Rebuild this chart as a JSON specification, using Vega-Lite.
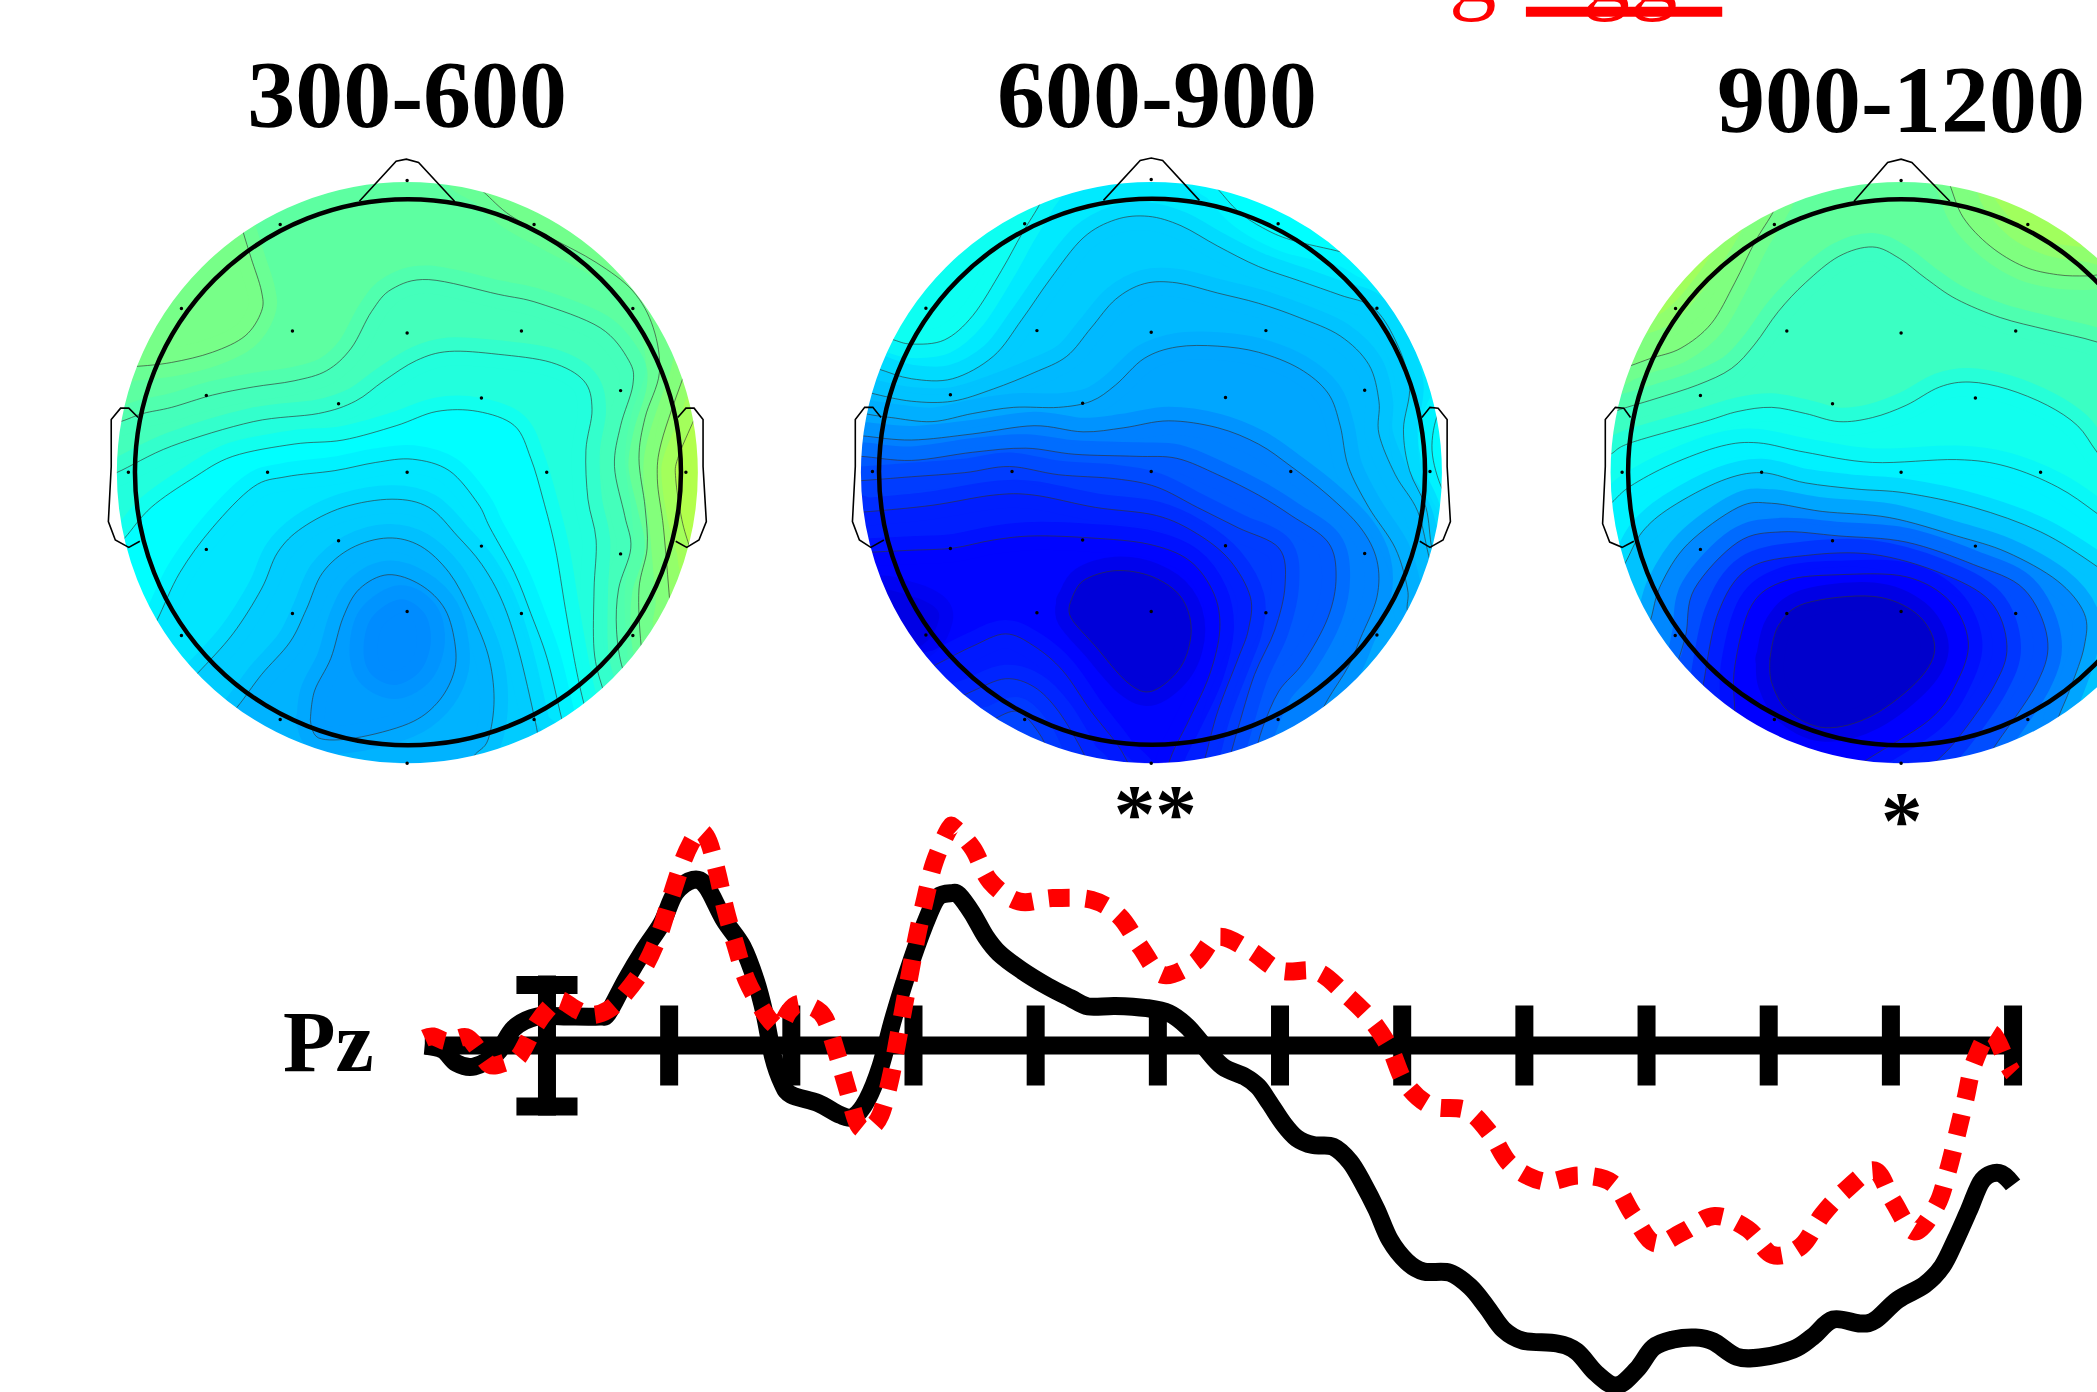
{
"$schema":"https://vega.github.io/schema/vega-lite/v6.json",
"width":2097,"height":1392,"padding":0,"autosize":{"type":"none"},"background":"white",
"config":{"view":{"stroke":null}},
"datasets":{
"levels":[{"s":"B1","v":0.2},{"s":"TL","v":0.8},{"s":"H1","v":0.7},{"s":"H2","v":1.5},{"s":"H3","v":2.2},{"s":"L1","v":-0.4},{"s":"L2","v":-1.2},{"s":"L3","v":-2.0},{"s":"L4","v":-2.6},{"s":"L5","v":-3.2},{"s":"L6","v":-3.8},{"s":"L7","v":-4.3},{"s":"L8","v":-4.7},
{"s":"B2","v":-2.5},{"s":"T1","v":-1.7},{"s":"T2","v":-2.0},{"s":"RL","v":-2.1},{"s":"M2","v":-3.2},{"s":"M3","v":-3.65},{"s":"M4","v":-4.1},{"s":"M5","v":-5.0},{"s":"M6","v":-5.9},{"s":"M7","v":-6.6},{"s":"M8","v":-7.3},{"s":"M9","v":-7.9},{"s":"D","v":-8.4},{"s":"P1","v":-7.4},{"s":"P2","v":-6.9},{"s":"P3","v":-6.4},{"s":"M10","v":-8.6},
{"s":"B3","v":0.3},{"s":"A1","v":1.0},{"s":"A2","v":1.0},{"s":"A3","v":1.8},{"s":"A4","v":1.8},{"s":"N2","v":-0.6},{"s":"N3","v":-1.6},{"s":"N4","v":-2.3},{"s":"N5","v":-3.4},{"s":"N6","v":-4.8},{"s":"N7","v":-6.2},{"s":"N8","v":-7.3},{"s":"N9","v":-8.0},{"s":"N10","v":-8.8}],
"m1":[
{"s":"B1","o":1,"x":1577,"y":815},{"s":"B1","o":1,"x":1470,"y":1215},{"s":"B1","o":1,"x":1177,"y":1508},{"s":"B1","o":1,"x":777,"y":1615},{"s":"B1","o":1,"x":377,"y":1508},{"s":"B1","o":1,"x":84,"y":1215},{"s":"B1","o":1,"x":-23,"y":815},{"s":"B1","o":1,"x":84,"y":415},{"s":"B1","o":1,"x":377,"y":122},{"s":"B1","o":1,"x":777,"y":15},{"s":"B1","o":1,"x":1177,"y":122},{"s":"B1","o":1,"x":1470,"y":415},
{"s":"TL","x":360,"y":170},{"s":"TL","x":375,"y":225},{"s":"TL","x":395,"y":290},{"s":"TL","x":420,"y":370},{"s":"TL","x":420,"y":420},{"s":"TL","x":380,"y":480},{"s":"TL","x":300,"y":520},{"s":"TL","x":200,"y":545},{"s":"TL","x":110,"y":555},{"s":"TL","x":50,"y":557},{"s":"TL","o":1,"x":84,"y":415},{"s":"TL","o":1,"x":377,"y":122},
{"s":"H1","x":920,"y":90},{"s":"H1","x":965,"y":128},{"s":"H1","x":1030,"y":185},{"s":"H1","x":1130,"y":240},{"s":"H1","x":1240,"y":300},{"s":"H1","x":1330,"y":370},{"s":"H1","x":1380,"y":460},{"s":"H1","x":1395,"y":570},{"s":"H1","x":1360,"y":680},{"s":"H1","x":1345,"y":780},{"s":"H1","x":1360,"y":900},{"s":"H1","x":1365,"y":1000},{"s":"H1","x":1345,"y":1100},{"s":"H1","x":1350,"y":1235},{"s":"H1","x":1365,"y":1300},{"s":"H1","o":1,"x":1470,"y":1215},{"s":"H1","o":1,"x":1577,"y":815},{"s":"H1","o":1,"x":1470,"y":415},{"s":"H1","o":1,"x":1177,"y":122},
{"s":"H2","x":1470,"y":540},{"s":"H2","x":1452,"y":585},{"s":"H2","x":1400,"y":740},{"s":"H2","x":1390,"y":830},{"s":"H2","x":1405,"y":950},{"s":"H2","x":1420,"y":1125},{"s":"H2","x":1425,"y":1190},{"s":"H2","o":1,"x":1577,"y":1100},{"s":"H2","o":1,"x":1577,"y":815},{"s":"H2","o":1,"x":1530,"y":560},
{"s":"H3","x":1500,"y":640},{"s":"H3","x":1480,"y":685},{"s":"H3","x":1440,"y":780},{"s":"H3","x":1435,"y":830},{"s":"H3","x":1450,"y":930},{"s":"H3","x":1470,"y":1000},{"s":"H3","x":1490,"y":1060},{"s":"H3","o":1,"x":1577,"y":1000},{"s":"H3","o":1,"x":1577,"y":815},{"s":"H3","o":1,"x":1560,"y":650},
{"s":"L1","x":20,"y":705},{"s":"L1","x":75,"y":690},{"s":"L1","x":130,"y":670},{"s":"L1","x":200,"y":655},{"s":"L1","x":300,"y":625},{"s":"L1","x":400,"y":605},{"s":"L1","x":500,"y":590},{"s":"L1","x":580,"y":565},{"s":"L1","x":640,"y":510},{"s":"L1","x":690,"y":420},{"s":"L1","x":740,"y":365},{"s":"L1","x":830,"y":342},{"s":"L1","x":1000,"y":378},{"s":"L1","x":1100,"y":400},{"s":"L1","x":1250,"y":460},{"s":"L1","x":1320,"y":540},{"s":"L1","x":1330,"y":600},{"s":"L1","x":1300,"y":700},{"s":"L1","x":1285,"y":800},{"s":"L1","x":1310,"y":920},{"s":"L1","x":1325,"y":1000},{"s":"L1","x":1295,"y":1100},{"s":"L1","x":1290,"y":1200},{"s":"L1","x":1305,"y":1295},{"s":"L1","x":1340,"y":1360},{"s":"L1","o":1,"x":1177,"y":1508},{"s":"L1","o":1,"x":777,"y":1615},{"s":"L1","o":1,"x":377,"y":1508},{"s":"L1","o":1,"x":84,"y":1215},{"s":"L1","o":1,"x":-23,"y":815},
{"s":"L2","x":0,"y":835},{"s":"L2","x":65,"y":815},{"s":"L2","x":200,"y":750},{"s":"L2","x":400,"y":690},{"s":"L2","x":560,"y":670},{"s":"L2","x":650,"y":640},{"s":"L2","x":720,"y":590},{"s":"L2","x":800,"y":540},{"s":"L2","x":880,"y":518},{"s":"L2","x":1000,"y":525},{"s":"L2","x":1130,"y":545},{"s":"L2","x":1210,"y":590},{"s":"L2","x":1230,"y":660},{"s":"L2","x":1215,"y":760},{"s":"L2","x":1220,"y":880},{"s":"L2","x":1240,"y":980},{"s":"L2","x":1235,"y":1100},{"s":"L2","x":1235,"y":1250},{"s":"L2","x":1255,"y":1340},{"s":"L2","x":1280,"y":1400},{"s":"L2","o":1,"x":1177,"y":1508},{"s":"L2","o":1,"x":777,"y":1615},{"s":"L2","o":1,"x":377,"y":1508},{"s":"L2","o":1,"x":84,"y":1215},
{"s":"L3","x":40,"y":1020},{"s":"L3","x":85,"y":975},{"s":"L3","x":150,"y":900},{"s":"L3","x":250,"y":830},{"s":"L3","x":350,"y":775},{"s":"L3","x":500,"y":745},{"s":"L3","x":620,"y":735},{"s":"L3","x":750,"y":700},{"s":"L3","x":850,"y":665},{"s":"L3","x":950,"y":665},{"s":"L3","x":1040,"y":700},{"s":"L3","x":1080,"y":780},{"s":"L3","x":1110,"y":880},{"s":"L3","x":1140,"y":1000},{"s":"L3","x":1165,"y":1150},{"s":"L3","x":1190,"y":1290},{"s":"L3","x":1210,"y":1380},{"s":"L3","x":1230,"y":1440},{"s":"L3","o":1,"x":1177,"y":1508},{"s":"L3","o":1,"x":777,"y":1615},{"s":"L3","o":1,"x":377,"y":1508},{"s":"L3","o":1,"x":84,"y":1215},
{"s":"L4","x":130,"y":1235},{"s":"L4","x":165,"y":1175},{"s":"L4","x":220,"y":1060},{"s":"L4","x":300,"y":950},{"s":"L4","x":400,"y":850},{"s":"L4","x":480,"y":825},{"s":"L4","x":600,"y":810},{"s":"L4","x":700,"y":790},{"s":"L4","x":790,"y":782},{"s":"L4","x":880,"y":810},{"s":"L4","x":950,"y":890},{"s":"L4","x":980,"y":950},{"s":"L4","x":1040,"y":1060},{"s":"L4","x":1080,"y":1160},{"s":"L4","x":1120,"y":1270},{"s":"L4","x":1155,"y":1415},{"s":"L4","x":1170,"y":1470},{"s":"L4","o":1,"x":777,"y":1615},{"s":"L4","o":1,"x":377,"y":1508},{"s":"L4","o":1,"x":100,"y":1260},
{"s":"L5","x":220,"y":1350},{"s":"L5","x":265,"y":1305},{"s":"L5","x":350,"y":1210},{"s":"L5","x":420,"y":1100},{"s":"L5","x":460,"y":1010},{"s":"L5","x":520,"y":950},{"s":"L5","x":620,"y":900},{"s":"L5","x":740,"y":880},{"s":"L5","x":830,"y":900},{"s":"L5","x":900,"y":970},{"s":"L5","x":960,"y":1040},{"s":"L5","x":1010,"y":1130},{"s":"L5","x":1050,"y":1250},{"s":"L5","x":1090,"y":1420},{"s":"L5","x":1100,"y":1480},{"s":"L5","o":1,"x":777,"y":1615},{"s":"L5","o":1,"x":377,"y":1508},
{"s":"L6","x":310,"y":1440},{"s":"L6","x":360,"y":1390},{"s":"L6","x":420,"y":1310},{"s":"L6","x":490,"y":1230},{"s":"L6","x":530,"y":1150},{"s":"L6","x":570,"y":1060},{"s":"L6","x":640,"y":1000},{"s":"L6","x":730,"y":975},{"s":"L6","x":810,"y":995},{"s":"L6","x":880,"y":1060},{"s":"L6","x":930,"y":1150},{"s":"L6","x":975,"y":1260},{"s":"L6","x":990,"y":1370},{"s":"L6","x":975,"y":1470},{"s":"L6","x":940,"y":1510},{"s":"L6","x":910,"y":1570},{"s":"L6","o":1,"x":777,"y":1615},{"s":"L6","o":1,"x":450,"y":1560},
{"s":"L7","x":540,"y":1420},{"s":"L7","x":550,"y":1350},{"s":"L7","x":590,"y":1270},{"s":"L7","x":620,"y":1170},{"s":"L7","x":660,"y":1100},{"s":"L7","x":730,"y":1065},{"s":"L7","x":810,"y":1090},{"s":"L7","x":870,"y":1150},{"s":"L7","x":895,"y":1240},{"s":"L7","x":890,"y":1310},{"s":"L7","x":850,"y":1380},{"s":"L7","x":780,"y":1430},{"s":"L7","x":650,"y":1465},{"s":"L7","x":560,"y":1465},{"s":"L7","x":540,"y":1420},
{"s":"L8","o":1,"x":670,"y":1250},{"s":"L8","o":1,"x":690,"y":1170},{"s":"L8","o":1,"x":760,"y":1125},{"s":"L8","o":1,"x":820,"y":1160},{"s":"L8","o":1,"x":835,"y":1230},{"s":"L8","o":1,"x":810,"y":1300},{"s":"L8","o":1,"x":750,"y":1335},{"s":"L8","o":1,"x":690,"y":1310}
],
"m2":[
{"s":"B2","o":1,"x":1587,"y":815},{"s":"B2","o":1,"x":1480,"y":1215},{"s":"B2","o":1,"x":1187,"y":1508},{"s":"B2","o":1,"x":787,"y":1615},{"s":"B2","o":1,"x":387,"y":1508},{"s":"B2","o":1,"x":94,"y":1215},{"s":"B2","o":1,"x":-13,"y":815},{"s":"B2","o":1,"x":94,"y":415},{"s":"B2","o":1,"x":387,"y":122},{"s":"B2","o":1,"x":787,"y":15},{"s":"B2","o":1,"x":1187,"y":122},{"s":"B2","o":1,"x":1480,"y":415},
{"s":"T1","x":530,"y":110},{"s":"T1","x":515,"y":155},{"s":"T1","x":470,"y":230},{"s":"T1","x":420,"y":320},{"s":"T1","x":350,"y":430},{"s":"T1","x":280,"y":490},{"s":"T1","x":200,"y":500},{"s":"T1","x":150,"y":488},{"s":"T1","x":80,"y":470},{"s":"T1","o":1,"x":94,"y":415},{"s":"T1","o":1,"x":387,"y":122},
{"s":"T2","x":910,"y":80},{"s":"T2","x":950,"y":120},{"s":"T2","x":1000,"y":175},{"s":"T2","x":1060,"y":215},{"s":"T2","x":1130,"y":245},{"s":"T2","x":1255,"y":275},{"s":"T2","x":1330,"y":300},{"s":"T2","o":1,"x":1300,"y":120},{"s":"T2","o":1,"x":1187,"y":122},
{"s":"RL","x":1530,"y":630},{"s":"RL","x":1490,"y":670},{"s":"RL","x":1475,"y":760},{"s":"RL","x":1500,"y":855},{"s":"RL","x":1540,"y":900},{"s":"RL","o":1,"x":1587,"y":815},
{"s":"M2","x":40,"y":540},{"s":"M2","x":115,"y":560},{"s":"M2","x":200,"y":585},{"s":"M2","x":300,"y":585},{"s":"M2","x":400,"y":530},{"s":"M2","x":470,"y":440},{"s":"M2","x":540,"y":340},{"s":"M2","x":620,"y":240},{"s":"M2","x":700,"y":195},{"s":"M2","x":780,"y":187},{"s":"M2","x":860,"y":210},{"s":"M2","x":950,"y":260},{"s":"M2","x":1050,"y":310},{"s":"M2","x":1150,"y":345},{"s":"M2","x":1250,"y":380},{"s":"M2","x":1330,"y":410},{"s":"M2","x":1385,"y":490},{"s":"M2","x":1420,"y":600},{"s":"M2","x":1405,"y":710},{"s":"M2","x":1420,"y":810},{"s":"M2","x":1460,"y":900},{"s":"M2","x":1475,"y":1000},{"s":"M2","x":1500,"y":1040},{"s":"M2","o":1,"x":1480,"y":1215},{"s":"M2","o":1,"x":1187,"y":1508},{"s":"M2","o":1,"x":787,"y":1615},{"s":"M2","o":1,"x":387,"y":1508},{"s":"M2","o":1,"x":94,"y":1215},{"s":"M2","o":1,"x":-13,"y":815},
{"s":"M3","x":30,"y":600},{"s":"M3","x":100,"y":620},{"s":"M3","x":200,"y":640},{"s":"M3","x":300,"y":640},{"s":"M3","x":400,"y":610},{"s":"M3","x":500,"y":570},{"s":"M3","x":580,"y":530},{"s":"M3","x":640,"y":460},{"s":"M3","x":700,"y":390},{"s":"M3","x":770,"y":352},{"s":"M3","x":850,"y":350},{"s":"M3","x":950,"y":375},{"s":"M3","x":1050,"y":400},{"s":"M3","x":1150,"y":435},{"s":"M3","x":1250,"y":480},{"s":"M3","x":1320,"y":550},{"s":"M3","x":1345,"y":640},{"s":"M3","x":1345,"y":720},{"s":"M3","x":1385,"y":820},{"s":"M3","x":1440,"y":910},{"s":"M3","x":1470,"y":1030},{"s":"M3","x":1495,"y":1090},{"s":"M3","o":1,"x":1480,"y":1215},{"s":"M3","o":1,"x":1187,"y":1508},{"s":"M3","o":1,"x":787,"y":1615},{"s":"M3","o":1,"x":387,"y":1508},{"s":"M3","o":1,"x":94,"y":1215},{"s":"M3","o":1,"x":-13,"y":815},
{"s":"M4","x":20,"y":650},{"s":"M4","x":85,"y":670},{"s":"M4","x":150,"y":680},{"s":"M4","x":250,"y":690},{"s":"M4","x":350,"y":670},{"s":"M4","x":450,"y":655},{"s":"M4","x":560,"y":655},{"s":"M4","x":640,"y":640},{"s":"M4","x":700,"y":600},{"s":"M4","x":770,"y":535},{"s":"M4","x":850,"y":507},{"s":"M4","x":950,"y":505},{"s":"M4","x":1050,"y":520},{"s":"M4","x":1150,"y":560},{"s":"M4","x":1220,"y":620},{"s":"M4","x":1250,"y":700},{"s":"M4","x":1270,"y":800},{"s":"M4","x":1320,"y":900},{"s":"M4","x":1385,"y":1000},{"s":"M4","x":1415,"y":1100},{"s":"M4","x":1415,"y":1155},{"s":"M4","x":1440,"y":1210},{"s":"M4","o":1,"x":1187,"y":1508},{"s":"M4","o":1,"x":787,"y":1615},{"s":"M4","o":1,"x":387,"y":1508},{"s":"M4","o":1,"x":94,"y":1215},{"s":"M4","o":1,"x":-13,"y":815},
{"s":"M5","x":10,"y":720},{"s":"M5","x":80,"y":725},{"s":"M5","x":200,"y":735},{"s":"M5","x":350,"y":720},{"s":"M5","x":500,"y":700},{"s":"M5","x":620,"y":715},{"s":"M5","x":720,"y":705},{"s":"M5","x":830,"y":688},{"s":"M5","x":950,"y":705},{"s":"M5","x":1050,"y":745},{"s":"M5","x":1130,"y":800},{"s":"M5","x":1220,"y":870},{"s":"M5","x":1300,"y":950},{"s":"M5","x":1340,"y":1030},{"s":"M5","x":1340,"y":1120},{"s":"M5","x":1300,"y":1220},{"s":"M5","x":1270,"y":1290},{"s":"M5","x":1220,"y":1370},{"s":"M5","x":1190,"y":1430},{"s":"M5","o":1,"x":1187,"y":1508},{"s":"M5","o":1,"x":787,"y":1615},{"s":"M5","o":1,"x":387,"y":1508},{"s":"M5","o":1,"x":94,"y":1215},{"s":"M5","o":1,"x":-13,"y":815},
{"s":"M6","x":0,"y":775},{"s":"M6","x":75,"y":775},{"s":"M6","x":200,"y":785},{"s":"M6","x":350,"y":765},{"s":"M6","x":480,"y":755},{"s":"M6","x":600,"y":770},{"s":"M6","x":750,"y":775},{"s":"M6","x":850,"y":780},{"s":"M6","x":950,"y":820},{"s":"M6","x":1050,"y":870},{"s":"M6","x":1130,"y":920},{"s":"M6","x":1220,"y":985},{"s":"M6","x":1240,"y":1070},{"s":"M6","x":1220,"y":1170},{"s":"M6","x":1160,"y":1280},{"s":"M6","x":1100,"y":1350},{"s":"M6","x":1060,"y":1440},{"s":"M6","x":1040,"y":1510},{"s":"M6","x":1020,"y":1560},{"s":"M6","o":1,"x":787,"y":1615},{"s":"M6","o":1,"x":387,"y":1508},{"s":"M6","o":1,"x":94,"y":1215},{"s":"M6","o":1,"x":-13,"y":815},
{"s":"M7","x":0,"y":838},{"s":"M7","x":70,"y":835},{"s":"M7","x":200,"y":825},{"s":"M7","x":330,"y":815},{"s":"M7","x":440,"y":800},{"s":"M7","x":560,"y":820},{"s":"M7","x":700,"y":830},{"s":"M7","x":800,"y":850},{"s":"M7","x":900,"y":900},{"s":"M7","x":1000,"y":950},{"s":"M7","x":1100,"y":1000},{"s":"M7","x":1115,"y":1090},{"s":"M7","x":1090,"y":1200},{"s":"M7","x":1040,"y":1310},{"s":"M7","x":1000,"y":1440},{"s":"M7","x":980,"y":1510},{"s":"M7","x":960,"y":1570},{"s":"M7","o":1,"x":787,"y":1615},{"s":"M7","o":1,"x":387,"y":1508},{"s":"M7","o":1,"x":94,"y":1215},{"s":"M7","o":1,"x":-13,"y":900},
{"s":"M8","x":30,"y":915},{"s":"M8","x":100,"y":910},{"s":"M8","x":250,"y":895},{"s":"M8","x":400,"y":870},{"s":"M8","x":500,"y":870},{"s":"M8","x":650,"y":900},{"s":"M8","x":800,"y":920},{"s":"M8","x":900,"y":965},{"s":"M8","x":980,"y":1030},{"s":"M8","x":1030,"y":1120},{"s":"M8","x":1025,"y":1200},{"s":"M8","x":1000,"y":1270},{"s":"M8","x":950,"y":1400},{"s":"M8","x":920,"y":1510},{"s":"M8","x":900,"y":1570},{"s":"M8","o":1,"x":787,"y":1615},{"s":"M8","o":1,"x":387,"y":1508},{"s":"M8","o":1,"x":94,"y":1215},
{"s":"M9","x":30,"y":1015},{"s":"M9","x":100,"y":1010},{"s":"M9","x":200,"y":1005},{"s":"M9","x":300,"y":1000},{"s":"M9","x":400,"y":980},{"s":"M9","x":500,"y":970},{"s":"M9","x":640,"y":975},{"s":"M9","x":780,"y":990},{"s":"M9","x":880,"y":1030},{"s":"M9","x":940,"y":1110},{"s":"M9","x":955,"y":1200},{"s":"M9","x":930,"y":1310},{"s":"M9","x":880,"y":1420},{"s":"M9","x":840,"y":1500},{"s":"M9","x":820,"y":1560},{"s":"M9","o":1,"x":787,"y":1615},{"s":"M9","o":1,"x":387,"y":1508},{"s":"M9","o":1,"x":94,"y":1215},
{"s":"D","o":1,"x":110,"y":1110},{"s":"D","o":1,"x":200,"y":1118},{"s":"D","o":1,"x":262,"y":1150},{"s":"D","o":1,"x":262,"y":1190},{"s":"D","o":1,"x":235,"y":1230},{"s":"D","o":1,"x":190,"y":1250},{"s":"D","o":1,"x":100,"y":1240},
{"s":"P1","x":230,"y":1300},{"s":"P1","x":270,"y":1280},{"s":"P1","x":350,"y":1240},{"s":"P1","x":430,"y":1210},{"s":"P1","x":500,"y":1240},{"s":"P1","x":570,"y":1300},{"s":"P1","x":640,"y":1400},{"s":"P1","x":710,"y":1490},{"s":"P1","x":750,"y":1570},{"s":"P1","o":1,"x":387,"y":1560},{"s":"P1","o":1,"x":200,"y":1400},
{"s":"P2","x":290,"y":1380},{"s":"P2","x":350,"y":1350},{"s":"P2","x":430,"y":1320},{"s":"P2","x":500,"y":1340},{"s":"P2","x":560,"y":1400},{"s":"P2","x":620,"y":1500},{"s":"P2","x":640,"y":1550},{"s":"P2","o":1,"x":387,"y":1560},{"s":"P2","o":1,"x":300,"y":1440},
{"s":"P3","x":370,"y":1440},{"s":"P3","x":400,"y":1420},{"s":"P3","x":460,"y":1400},{"s":"P3","x":510,"y":1450},{"s":"P3","x":540,"y":1510},{"s":"P3","x":560,"y":1570},{"s":"P3","o":1,"x":400,"y":1570},
{"s":"M10","x":590,"y":1130},{"s":"M10","x":620,"y":1080},{"s":"M10","x":700,"y":1055},{"s":"M10","x":790,"y":1070},{"s":"M10","x":860,"y":1120},{"s":"M10","x":885,"y":1200},{"s":"M10","x":860,"y":1290},{"s":"M10","x":790,"y":1350},{"s":"M10","x":730,"y":1330},{"s":"M10","x":650,"y":1240},{"s":"M10","x":590,"y":1170},{"s":"M10","x":590,"y":1130}
],
"m3":[
{"s":"B3","o":1,"x":1957,"y":815},{"s":"B3","o":1,"x":1825,"y":1215},{"s":"B3","o":1,"x":1470,"y":1508},{"s":"B3","o":1,"x":985,"y":1615},{"s":"B3","o":1,"x":500,"y":1508},{"s":"B3","o":1,"x":145,"y":1215},{"s":"B3","o":1,"x":13,"y":815},{"s":"B3","o":1,"x":145,"y":415},{"s":"B3","o":1,"x":500,"y":122},{"s":"B3","o":1,"x":985,"y":15},{"s":"B3","o":1,"x":1470,"y":122},{"s":"B3","o":1,"x":1825,"y":415},
{"s":"A1","x":620,"y":130},{"s":"A1","x":605,"y":175},{"s":"A1","x":550,"y":250},{"s":"A1","x":490,"y":350},{"s":"A1","x":420,"y":450},{"s":"A1","x":330,"y":510},{"s":"A1","x":240,"y":535},{"s":"A1","x":180,"y":553},{"s":"A1","x":100,"y":575},{"s":"A1","o":1,"x":145,"y":415},{"s":"A1","o":1,"x":500,"y":122},
{"s":"A2","x":1110,"y":70},{"s":"A2","x":1130,"y":110},{"s":"A2","x":1170,"y":190},{"s":"A2","x":1250,"y":260},{"s":"A2","x":1350,"y":310},{"s":"A2","x":1450,"y":330},{"s":"A2","x":1540,"y":333},{"s":"A2","x":1650,"y":330},{"s":"A2","x":1800,"y":400},{"s":"A2","o":1,"x":1825,"y":300},{"s":"A2","o":1,"x":1470,"y":122},
{"s":"A3","o":1,"x":530,"y":120},{"s":"A3","o":1,"x":450,"y":240},{"s":"A3","o":1,"x":370,"y":340},{"s":"A3","o":1,"x":280,"y":420},{"s":"A3","o":1,"x":180,"y":450},{"s":"A3","o":1,"x":100,"y":470},{"s":"A3","o":1,"x":145,"y":415},{"s":"A3","o":1,"x":500,"y":122},
{"s":"A4","o":1,"x":1260,"y":110},{"s":"A4","o":1,"x":1320,"y":200},{"s":"A4","o":1,"x":1430,"y":250},{"s":"A4","o":1,"x":1568,"y":270},{"s":"A4","o":1,"x":1800,"y":330},{"s":"A4","o":1,"x":1825,"y":300},{"s":"A4","o":1,"x":1470,"y":122},
{"s":"N2","x":90,"y":680},{"s":"N2","x":150,"y":660},{"s":"N2","x":250,"y":635},{"s":"N2","x":380,"y":600},{"s":"N2","x":480,"y":560},{"s":"N2","x":550,"y":500},{"s":"N2","x":620,"y":420},{"s":"N2","x":700,"y":350},{"s":"N2","x":800,"y":285},{"s":"N2","x":900,"y":262},{"s":"N2","x":980,"y":290},{"s":"N2","x":1060,"y":340},{"s":"N2","x":1150,"y":390},{"s":"N2","x":1280,"y":435},{"s":"N2","x":1420,"y":465},{"s":"N2","x":1568,"y":495},{"s":"N2","x":1700,"y":540},{"s":"N2","o":1,"x":1825,"y":1215},{"s":"N2","o":1,"x":1470,"y":1508},{"s":"N2","o":1,"x":985,"y":1615},{"s":"N2","o":1,"x":500,"y":1508},{"s":"N2","o":1,"x":145,"y":1215},{"s":"N2","o":1,"x":13,"y":815},
{"s":"N3","x":60,"y":790},{"s":"N3","x":120,"y":770},{"s":"N3","x":180,"y":742},{"s":"N3","x":400,"y":690},{"s":"N3","x":500,"y":665},{"s":"N3","x":600,"y":655},{"s":"N3","x":700,"y":670},{"s":"N3","x":800,"y":690},{"s":"N3","x":900,"y":680},{"s":"N3","x":1000,"y":650},{"s":"N3","x":1100,"y":605},{"s":"N3","x":1190,"y":593},{"s":"N3","x":1300,"y":610},{"s":"N3","x":1420,"y":650},{"s":"N3","x":1510,"y":700},{"s":"N3","x":1568,"y":765},{"s":"N3","x":1650,"y":850},{"s":"N3","o":1,"x":1825,"y":1215},{"s":"N3","o":1,"x":1470,"y":1508},{"s":"N3","o":1,"x":985,"y":1615},{"s":"N3","o":1,"x":500,"y":1508},{"s":"N3","o":1,"x":145,"y":1215},{"s":"N3","o":1,"x":13,"y":815},
{"s":"N4","x":80,"y":925},{"s":"N4","x":125,"y":888},{"s":"N4","x":180,"y":848},{"s":"N4","x":300,"y":795},{"s":"N4","x":450,"y":750},{"s":"N4","x":560,"y":742},{"s":"N4","x":700,"y":765},{"s":"N4","x":900,"y":790},{"s":"N4","x":1150,"y":783},{"s":"N4","x":1300,"y":800},{"s":"N4","x":1450,"y":850},{"s":"N4","x":1568,"y":915},{"s":"N4","x":1700,"y":1000},{"s":"N4","o":1,"x":1825,"y":1215},{"s":"N4","o":1,"x":1470,"y":1508},{"s":"N4","o":1,"x":985,"y":1615},{"s":"N4","o":1,"x":500,"y":1508},{"s":"N4","o":1,"x":145,"y":1215},
{"s":"N5","x":130,"y":1080},{"s":"N5","x":165,"y":1035},{"s":"N5","x":215,"y":960},{"s":"N5","x":300,"y":900},{"s":"N5","x":450,"y":835},{"s":"N5","x":570,"y":815},{"s":"N5","x":700,"y":840},{"s":"N5","x":850,"y":855},{"s":"N5","x":1000,"y":865},{"s":"N5","x":1200,"y":900},{"s":"N5","x":1400,"y":960},{"s":"N5","x":1568,"y":1045},{"s":"N5","x":1700,"y":1130},{"s":"N5","o":1,"x":1825,"y":1215},{"s":"N5","o":1,"x":1470,"y":1508},{"s":"N5","o":1,"x":985,"y":1615},{"s":"N5","o":1,"x":500,"y":1508},{"s":"N5","o":1,"x":145,"y":1215},
{"s":"N6","x":215,"y":1230},{"s":"N6","x":240,"y":1175},{"s":"N6","x":270,"y":1090},{"s":"N6","x":350,"y":990},{"s":"N6","x":500,"y":900},{"s":"N6","x":600,"y":890},{"s":"N6","x":750,"y":910},{"s":"N6","x":950,"y":925},{"s":"N6","x":1150,"y":970},{"s":"N6","x":1300,"y":1010},{"s":"N6","x":1450,"y":1080},{"s":"N6","x":1530,"y":1160},{"s":"N6","x":1530,"y":1240},{"s":"N6","x":1490,"y":1340},{"s":"N6","x":1450,"y":1420},{"s":"N6","x":1420,"y":1490},{"s":"N6","o":1,"x":985,"y":1615},{"s":"N6","o":1,"x":500,"y":1508},{"s":"N6","o":1,"x":200,"y":1300},
{"s":"N7","x":320,"y":1280},{"s":"N7","x":345,"y":1210},{"s":"N7","x":370,"y":1100},{"s":"N7","x":500,"y":985},{"s":"N7","x":630,"y":960},{"s":"N7","x":800,"y":970},{"s":"N7","x":1000,"y":985},{"s":"N7","x":1200,"y":1040},{"s":"N7","x":1350,"y":1100},{"s":"N7","x":1420,"y":1220},{"s":"N7","x":1390,"y":1330},{"s":"N7","x":1260,"y":1490},{"s":"N7","x":1230,"y":1540},{"s":"N7","o":1,"x":985,"y":1615},{"s":"N7","o":1,"x":500,"y":1508},{"s":"N7","o":1,"x":250,"y":1330},
{"s":"N8","x":380,"y":1400},{"s":"N8","x":395,"y":1340},{"s":"N8","x":440,"y":1160},{"s":"N8","x":530,"y":1050},{"s":"N8","x":700,"y":1018},{"s":"N8","x":900,"y":1015},{"s":"N8","x":1100,"y":1060},{"s":"N8","x":1250,"y":1130},{"s":"N8","x":1300,"y":1240},{"s":"N8","x":1260,"y":1340},{"s":"N8","x":1150,"y":1470},{"s":"N8","x":1080,"y":1530},{"s":"N8","x":1040,"y":1570},{"s":"N8","o":1,"x":985,"y":1615},{"s":"N8","o":1,"x":500,"y":1508},
{"s":"N9","x":490,"y":1460},{"s":"N9","x":490,"y":1400},{"s":"N9","x":490,"y":1290},{"s":"N9","x":540,"y":1140},{"s":"N9","x":640,"y":1080},{"s":"N9","x":800,"y":1065},{"s":"N9","x":1000,"y":1070},{"s":"N9","x":1130,"y":1130},{"s":"N9","x":1185,"y":1230},{"s":"N9","x":1150,"y":1330},{"s":"N9","x":1070,"y":1420},{"s":"N9","x":880,"y":1520},{"s":"N9","x":800,"y":1570},{"s":"N9","o":1,"x":600,"y":1560},
{"s":"N10","x":595,"y":1270},{"s":"N10","x":620,"y":1190},{"s":"N10","x":700,"y":1135},{"s":"N10","x":900,"y":1118},{"s":"N10","x":1030,"y":1160},{"s":"N10","x":1085,"y":1240},{"s":"N10","x":1040,"y":1320},{"s":"N10","x":900,"y":1410},{"s":"N10","x":760,"y":1440},{"s":"N10","x":650,"y":1400},{"s":"N10","x":600,"y":1330},{"s":"N10","x":595,"y":1270}
],
"black":[{"t":-100,"a":0},{"t":-85,"a":-0.22},{"t":-74,"a":-0.88},{"t":-59.5,"a":-1.05},{"t":-41,"a":-0.38},{"t":-27,"a":0.87},{"t":-8,"a":1.45},{"t":13.6,"a":1.45},{"t":43,"a":1.45},{"t":50,"a":1.62},{"t":64.7,"a":3.28},{"t":79.4,"a":4.78},{"t":94,"a":6.12},{"t":105,"a":7.62},{"t":119.5,"a":8.28},{"t":130.5,"a":7.95},{"t":145,"a":6.28},{"t":160,"a":4.95},{"t":170.7,"a":3.28},{"t":178,"a":1.62},{"t":185,"a":-0.55},{"t":192.6,"a":-1.88},{"t":200,"a":-2.47},{"t":222,"a":-2.88},{"t":240,"a":-3.47},{"t":251,"a":-3.55},{"t":262,"a":-2.72},{"t":273,"a":-1.05},{"t":284,"a":1.45},{"t":298.6,"a":4.28},{"t":313,"a":6.62},{"t":320.5,"a":7.45},{"t":331.5,"a":7.62},{"t":337,"a":7.53},{"t":348,"a":6.62},{"t":359,"a":5.45},{"t":370,"a":4.62},{"t":388,"a":3.78},{"t":410,"a":2.95},{"t":428.6,"a":2.37},{"t":443,"a":1.95},{"t":465,"a":1.98},{"t":491,"a":1.87},{"t":509,"a":1.62},{"t":524,"a":0.95},{"t":538,"a":-0.05},{"t":553,"a":-1.05},{"t":571,"a":-1.55},{"t":582,"a":-2.05},{"t":591.8,"a":-2.9},{"t":602.7,"a":-3.9},{"t":613.6,"a":-4.63},{"t":627,"a":-4.98},{"t":643.5,"a":-5.06},{"t":657.3,"a":-5.81},{"t":668,"a":-6.89},{"t":679,"a":-8.2},{"t":690,"a":-9.73},{"t":703.7,"a":-10.8},{"t":717.4,"a":-11.3},{"t":739,"a":-11.36},{"t":755.5,"a":-12.06},{"t":769,"a":-13.06},{"t":782.8,"a":-14.2},{"t":799,"a":-14.76},{"t":826.8,"a":-14.9},{"t":842.8,"a":-15.3},{"t":859,"a":-16.4},{"t":875.5,"a":-17.0},{"t":892,"a":-16.2},{"t":905.6,"a":-15.1},{"t":922,"a":-14.7},{"t":940,"a":-14.6},{"t":954.6,"a":-14.8},{"t":973.8,"a":-15.56},{"t":992.7,"a":-15.6},{"t":1020,"a":-15.2},{"t":1036,"a":-14.56},{"t":1052.8,"a":-13.7},{"t":1075,"a":-13.9},{"t":1087.4,"a":-13.72},{"t":1105.6,"a":-12.72},{"t":1127.5,"a":-11.97},{"t":1142,"a":-11.05},{"t":1153,"a":-9.72},{"t":1164,"a":-8.22},{"t":1175,"a":-6.72},{"t":1189,"a":-6.38},{"t":1200,"a":-6.97}],
"red":[{"t":-100,"a":0.37},{"t":-93,"a":0.45},{"t":-81.4,"a":0.2},{"t":-66,"a":0.42},{"t":-56,"a":-0.22},{"t":-46.7,"a":-0.97},{"t":-34,"a":-0.85},{"t":-23,"a":-0.55},{"t":-9,"a":1.03},{"t":2.6,"a":1.95},{"t":10.7,"a":2.28},{"t":24.5,"a":1.78},{"t":37,"a":1.53},{"t":50,"a":1.78},{"t":61.8,"a":2.45},{"t":79.4,"a":3.9},{"t":92,"a":5.57},{"t":101,"a":7.33},{"t":110.4,"a":9.08},{"t":117.7,"a":10.1},{"t":125,"a":10.7},{"t":132.3,"a":10.2},{"t":139.6,"a":8.58},{"t":146.2,"a":6.78},{"t":154.3,"a":5.03},{"t":163.4,"a":3.28},{"t":177.3,"a":1.7},{"t":185,"a":1.1},{"t":190.8,"a":0.95},{"t":198,"a":1.7},{"t":205.4,"a":2.07},{"t":216.4,"a":1.95},{"t":227.4,"a":1.37},{"t":237.2,"a":-0.38},{"t":245.6,"a":-2.13},{"t":254.8,"a":-3.97},{"t":263.9,"a":-4.13},{"t":273,"a":-3.47},{"t":281,"a":-1.68},{"t":286.6,"a":0.12},{"t":292,"a":1.92},{"t":297.5,"a":3.73},{"t":303,"a":5.53},{"t":309.6,"a":7.33},{"t":316.9,"a":9.12},{"t":328.6,"a":10.78},{"t":333.6,"a":10.87},{"t":348.9,"a":9.83},{"t":362.8,"a":8.2},{"t":386.5,"a":7.2},{"t":414,"a":7.37},{"t":446,"a":7.28},{"t":468.8,"a":6.45},{"t":486,"a":4.9},{"t":504,"a":3.53},{"t":530,"a":4.15},{"t":549,"a":5.42},{"t":575.5,"a":4.75},{"t":600.3,"a":3.75},{"t":630,"a":3.7},{"t":652,"a":2.65},{"t":673.4,"a":1.37},{"t":689.9,"a":-0.13},{"t":702.6,"a":-1.88},{"t":723.8,"a":-3.02},{"t":753,"a":-3.25},{"t":772.8,"a":-4.47},{"t":789,"a":-5.97},{"t":816.4,"a":-6.8},{"t":844.8,"a":-6.5},{"t":872,"a":-6.88},{"t":888.5,"a":-8.42},{"t":906.3,"a":-9.88},{"t":930.3,"a":-9.3},{"t":955.7,"a":-8.52},{"t":983,"a":-9.18},{"t":1003,"a":-10.47},{"t":1026.7,"a":-10.02},{"t":1043.8,"a":-8.47},{"t":1063.8,"a":-7.18},{"t":1086.7,"a":-6.25},{"t":1102,"a":-7.8},{"t":1119.4,"a":-9.3},{"t":1137.6,"a":-7.97},{"t":1146.7,"a":-6.25},{"t":1154,"a":-4.47},{"t":1161,"a":-2.68},{"t":1168,"a":-0.88},{"t":1182,"a":0.62},{"t":1195.8,"a":-0.97},{"t":1200,"a":-1.38}]
},
"layer":[
{"encoding":{"x":{"field":"x","type":"quantitative","axis":null,"scale":{"domain":[-220.5,4917.2],"nice":false,"zero":false}},"y":{"field":"y","type":"quantitative","axis":null,"scale":{"domain":[3067.4,-343],"nice":false,"zero":false}}},
"layer":[
{"data":{"name":"m1"},"transform":[{"window":[{"op":"row_number","as":"i"}]},{"lookup":"s","from":{"data":{"name":"levels"},"key":"s","fields":["v"]}}],"mark":{"type":"line","interpolate":"cardinal-closed","strokeWidth":28,"strokeOpacity":0.5},"encoding":{"detail":{"field":"s"},"order":{"field":"i","type":"quantitative"},"fill":{"field":"v","type":"quantitative","legend":null,"scale":{"domain":[-10,-8,-2,1,4],"range":["#00007f","#0000ff","#00ffff","#7fff7f","#ffff00"],"interpolate":"rgb"}},"stroke":{"field":"v","type":"quantitative","legend":null,"scale":{"domain":[-10,-8,-2,1,4],"range":["#00007f","#0000ff","#00ffff","#7fff7f","#ffff00"],"interpolate":"rgb"}}}},
{"data":{"name":"m1"},"transform":[{"window":[{"op":"row_number","as":"i"}]},{"filter":"!datum.o"}],"mark":{"type":"line","interpolate":"cardinal","stroke":"#333333","strokeWidth":0.8,"strokeOpacity":0.8},"encoding":{"detail":{"field":"s"},"order":{"field":"i","type":"quantitative"}}},
{"data":{"values":[{"x":777.5,"y":815}]},"mark":{"type":"point","shape":"circle","filled":false,"size":435600,"stroke":"white","strokeWidth":79,"opacity":1}},
{"data":{"values":[{"x":779,"y":814}]},"mark":{"type":"point","shape":"circle","filled":false,"size":298116,"stroke":"black","strokeWidth":4.5,"opacity":1}},
{"data":{"values":[{"p":"n","x":660,"y":150},{"p":"n","x":750,"y":52},{"p":"n","x":775,"y":47},{"p":"n","x":805,"y":55},{"p":"n","x":893,"y":150},{"p":"l","x":118,"y":680},{"p":"l","x":95,"y":657},{"p":"l","x":75,"y":657},{"p":"l","x":52,"y":685},{"p":"l","x":52,"y":800},{"p":"l","x":45,"y":935},{"p":"l","x":62,"y":980},{"p":"l","x":95,"y":998},{"p":"l","x":122,"y":983},{"p":"r","x":1440,"y":680},{"p":"r","x":1460,"y":657},{"p":"r","x":1480,"y":657},{"p":"r","x":1502,"y":685},{"p":"r","x":1502,"y":800},{"p":"r","x":1510,"y":935},{"p":"r","x":1492,"y":980},{"p":"r","x":1462,"y":998},{"p":"r","x":1435,"y":983}]},"transform":[{"window":[{"op":"row_number","as":"i"}]}],"mark":{"type":"line","stroke":"black","strokeWidth":1.6},"encoding":{"detail":{"field":"p"},"order":{"field":"i","type":"quantitative"}}},
{"data":{"values":[{"x":777,"y":99},{"x":466,"y":207},{"x":1088,"y":207},{"x":224,"y":413},{"x":1330,"y":413},{"x":496,"y":468},{"x":777,"y":473},{"x":1057,"y":468},{"x":285,"y":626},{"x":609,"y":646},{"x":959,"y":632},{"x":1300,"y":614},{"x":94,"y":814},{"x":435,"y":814},{"x":777,"y":814},{"x":1119,"y":814},{"x":1460,"y":814},{"x":285,"y":1003},{"x":609,"y":982},{"x":959,"y":995},{"x":1300,"y":1014},{"x":496,"y":1160},{"x":777,"y":1155},{"x":1057,"y":1160},{"x":224,"y":1214},{"x":1330,"y":1214},{"x":466,"y":1420},{"x":1088,"y":1420},{"x":777,"y":1527}]},"mark":{"type":"point","shape":"circle","filled":true,"size":12,"color":"black","opacity":1}},
{"data":{"values":[{"x":777,"y":-31,"label":"300-600"}]},"mark":{"type":"text","font":"Liberation Serif","fontWeight":"bold","fontSize":96,"color":"black","align":"center","baseline":"alphabetic"},"encoding":{"text":{"field":"label"}}}
]},
{"encoding":{"x":{"field":"x","type":"quantitative","axis":null,"scale":{"domain":[-2033.5,3104.2],"nice":false,"zero":false}},"y":{"field":"y","type":"quantitative","axis":null,"scale":{"domain":[3067.4,-343],"nice":false,"zero":false}}},
"layer":[
{"data":{"name":"m2"},"transform":[{"window":[{"op":"row_number","as":"i"}]},{"lookup":"s","from":{"data":{"name":"levels"},"key":"s","fields":["v"]}}],"mark":{"type":"line","interpolate":"cardinal-closed","strokeWidth":28,"strokeOpacity":0.5},"encoding":{"detail":{"field":"s"},"order":{"field":"i","type":"quantitative"},"fill":{"field":"v","type":"quantitative","legend":null,"scale":{"domain":[-10,-8,-2,1,4],"range":["#00007f","#0000ff","#00ffff","#7fff7f","#ffff00"],"interpolate":"rgb"}},"stroke":{"field":"v","type":"quantitative","legend":null,"scale":{"domain":[-10,-8,-2,1,4],"range":["#00007f","#0000ff","#00ffff","#7fff7f","#ffff00"],"interpolate":"rgb"}}}},
{"data":{"name":"m2"},"transform":[{"window":[{"op":"row_number","as":"i"}]},{"filter":"!datum.o"}],"mark":{"type":"line","interpolate":"cardinal","stroke":"#333333","strokeWidth":0.8,"strokeOpacity":0.8},"encoding":{"detail":{"field":"s"},"order":{"field":"i","type":"quantitative"}}},
{"data":{"values":[{"x":787.5,"y":815}]},"mark":{"type":"point","shape":"circle","filled":false,"size":435600,"stroke":"white","strokeWidth":79,"opacity":1}},
{"data":{"values":[{"x":789,"y":813}]},"mark":{"type":"point","shape":"circle","filled":false,"size":298116,"stroke":"black","strokeWidth":4.5,"opacity":1}},
{"data":{"values":[{"p":"n","x":670,"y":148},{"p":"n","x":760,"y":50},{"p":"n","x":787,"y":44},{"p":"n","x":815,"y":50},{"p":"n","x":905,"y":148},{"p":"l","x":125,"y":680},{"p":"l","x":105,"y":655},{"p":"l","x":85,"y":655},{"p":"l","x":62,"y":685},{"p":"l","x":62,"y":800},{"p":"l","x":55,"y":935},{"p":"l","x":72,"y":980},{"p":"l","x":100,"y":998},{"p":"l","x":132,"y":980},{"p":"r","x":1450,"y":680},{"p":"r","x":1470,"y":655},{"p":"r","x":1490,"y":657},{"p":"r","x":1512,"y":685},{"p":"r","x":1512,"y":800},{"p":"r","x":1520,"y":935},{"p":"r","x":1502,"y":980},{"p":"r","x":1470,"y":998},{"p":"r","x":1445,"y":983}]},"transform":[{"window":[{"op":"row_number","as":"i"}]}],"mark":{"type":"line","stroke":"black","strokeWidth":1.6},"encoding":{"detail":{"field":"p"},"order":{"field":"i","type":"quantitative"}}},
{"data":{"values":[{"x":787,"y":97},{"x":477,"y":205},{"x":1098,"y":205},{"x":235,"y":412},{"x":1340,"y":412},{"x":507,"y":467},{"x":787,"y":471},{"x":1068,"y":467},{"x":295,"y":624},{"x":619,"y":645},{"x":969,"y":631},{"x":1310,"y":613},{"x":104,"y":812},{"x":446,"y":812},{"x":787,"y":812},{"x":1129,"y":812},{"x":1470,"y":812},{"x":295,"y":1001},{"x":619,"y":980},{"x":969,"y":994},{"x":1310,"y":1013},{"x":507,"y":1158},{"x":787,"y":1155},{"x":1068,"y":1158},{"x":235,"y":1213},{"x":1340,"y":1213},{"x":477,"y":1420},{"x":1098,"y":1420},{"x":787,"y":1527}]},"mark":{"type":"point","shape":"circle","filled":true,"size":12,"color":"black","opacity":1}},
{"data":{"values":[{"x":801,"y":-31,"label":"600-900"}]},"mark":{"type":"text","font":"Liberation Serif","fontWeight":"bold","fontSize":96,"color":"black","align":"center","baseline":"alphabetic"},"encoding":{"text":{"field":"label"}}},
{"data":{"values":[{"x":797,"y":1717,"label":"**"}]},"mark":{"type":"text","font":"Liberation Serif","fontWeight":"bold","fontSize":83,"color":"black","align":"center","baseline":"alphabetic"},"encoding":{"text":{"field":"label"}}},
{"data":{"values":[{"x":1575,"y":-338,"label":"g"},{"x":1960,"y":-338,"label":"gg"}]},"mark":{"type":"text","font":"Liberation Serif","fontSize":95,"color":"#ff0000","align":"center","baseline":"alphabetic"},"encoding":{"text":{"field":"label"}}},
{"data":{"values":[{"x":1705,"x2":2186,"y":-314}]},"mark":{"type":"rule","stroke":"#ff0000","strokeWidth":10},"encoding":{"x2":{"field":"x2"}}}
]},
{"encoding":{"x":{"field":"x","type":"quantitative","axis":null,"scale":{"domain":[-4670.75,1567.8],"nice":false,"zero":false}},"y":{"field":"y","type":"quantitative","axis":null,"scale":{"domain":[3067.4,-343],"nice":false,"zero":false}}},
"layer":[
{"data":{"name":"m3"},"transform":[{"window":[{"op":"row_number","as":"i"}]},{"lookup":"s","from":{"data":{"name":"levels"},"key":"s","fields":["v"]}}],"mark":{"type":"line","interpolate":"cardinal-closed","strokeWidth":28,"strokeOpacity":0.5},"encoding":{"detail":{"field":"s"},"order":{"field":"i","type":"quantitative"},"fill":{"field":"v","type":"quantitative","legend":null,"scale":{"domain":[-10,-8,-2,1,4],"range":["#00007f","#0000ff","#00ffff","#7fff7f","#ffff00"],"interpolate":"rgb"}},"stroke":{"field":"v","type":"quantitative","legend":null,"scale":{"domain":[-10,-8,-2,1,4],"range":["#00007f","#0000ff","#00ffff","#7fff7f","#ffff00"],"interpolate":"rgb"}}}},
{"data":{"name":"m3"},"transform":[{"window":[{"op":"row_number","as":"i"}]},{"filter":"!datum.o"}],"mark":{"type":"line","interpolate":"cardinal","stroke":"#333333","strokeWidth":0.8,"strokeOpacity":0.8},"encoding":{"detail":{"field":"s"},"order":{"field":"i","type":"quantitative"}}},
{"data":{"values":[{"x":985,"y":815}]},"mark":{"type":"point","shape":"circle","filled":false,"size":435600,"stroke":"white","strokeWidth":79,"opacity":1}},
{"data":{"values":[{"x":985,"y":814}]},"mark":{"type":"point","shape":"circle","filled":false,"size":298116,"stroke":"black","strokeWidth":4.5,"opacity":1}},
{"data":{"values":[{"p":"n","x":845,"y":150},{"p":"n","x":945,"y":55},{"p":"n","x":985,"y":47},{"p":"n","x":1017,"y":55},{"p":"n","x":1130,"y":150},{"p":"l","x":180,"y":680},{"p":"l","x":160,"y":657},{"p":"l","x":135,"y":655},{"p":"l","x":105,"y":685},{"p":"l","x":105,"y":800},{"p":"l","x":97,"y":940},{"p":"l","x":118,"y":985},{"p":"l","x":155,"y":998},{"p":"l","x":190,"y":983}]},"transform":[{"window":[{"op":"row_number","as":"i"}]}],"mark":{"type":"line","stroke":"black","strokeWidth":1.6},"encoding":{"detail":{"field":"p"},"order":{"field":"i","type":"quantitative"}}},
{"data":{"values":[{"x":985,"y":99},{"x":608,"y":207},{"x":1362,"y":207},{"x":314,"y":413},{"x":645,"y":468},{"x":985,"y":473},{"x":1326,"y":468},{"x":388,"y":626},{"x":781,"y":646},{"x":1206,"y":632},{"x":155,"y":814},{"x":570,"y":814},{"x":985,"y":814},{"x":1400,"y":814},{"x":388,"y":1003},{"x":781,"y":982},{"x":1206,"y":995},{"x":645,"y":1160},{"x":985,"y":1155},{"x":1326,"y":1160},{"x":313,"y":1214},{"x":608,"y":1420},{"x":1362,"y":1420},{"x":985,"y":1527}]},"mark":{"type":"point","shape":"circle","filled":true,"size":12,"color":"black","opacity":1}},
{"data":{"values":[{"x":985,"y":-20,"label":"900-1200"}]},"mark":{"type":"text","font":"Liberation Serif","fontWeight":"bold","fontSize":96,"color":"black","align":"center","baseline":"alphabetic"},"encoding":{"text":{"field":"label"}}},
{"data":{"values":[{"x":987,"y":1734,"label":"*"}]},"mark":{"type":"text","font":"Liberation Serif","fontWeight":"bold","fontSize":83,"color":"black","align":"center","baseline":"alphabetic"},"encoding":{"text":{"field":"label"}}}
]},
{"encoding":{"x":{"field":"t","type":"quantitative","axis":null,"scale":{"domain":[-447.7,1268.7],"nice":false,"zero":false}},"y":{"field":"a","type":"quantitative","axis":null,"scale":{"domain":[-17.325,52.275],"nice":false,"zero":false}}},
"layer":[
{"data":{"values":[{"t":-100,"t2":1200,"a":0}]},"mark":{"type":"rule","stroke":"black","strokeWidth":18},"encoding":{"x2":{"field":"t2"}}},
{"data":{"values":[{"t":100,"a":2,"a2":-2},{"t":200,"a":2,"a2":-2},{"t":300,"a":2,"a2":-2},{"t":400,"a":2,"a2":-2},{"t":500,"a":2,"a2":-2},{"t":600,"a":2,"a2":-2},{"t":700,"a":2,"a2":-2},{"t":800,"a":2,"a2":-2},{"t":900,"a":2,"a2":-2},{"t":1000,"a":2,"a2":-2},{"t":1100,"a":2,"a2":-2},{"t":1200,"a":2,"a2":-2},{"t":0,"a":3.5,"a2":-3.5}]},"mark":{"type":"rule","stroke":"black","strokeWidth":18},"encoding":{"y2":{"field":"a2"}}},
{"data":{"values":[{"t":-25,"t2":25,"a":3.03},{"t":-25,"t2":25,"a":-3.05}]},"mark":{"type":"rule","stroke":"black","strokeWidth":18},"encoding":{"x2":{"field":"t2"}}},
{"data":{"name":"black"},"mark":{"type":"line","interpolate":"cardinal","stroke":"black","strokeWidth":18,"strokeJoin":"round"},"encoding":{"order":{"field":"t","type":"quantitative"}}},
{"data":{"name":"red"},"mark":{"type":"line","interpolate":"cardinal","stroke":"#ff0000","strokeWidth":18,"strokeDash":[21,16]},"encoding":{"order":{"field":"t","type":"quantitative"}}},
{"data":{"values":[{"t":-179,"a":-1.25,"label":"Pz"}]},"mark":{"type":"text","font":"Liberation Serif","fontWeight":"bold","fontSize":86,"color":"black","align":"center","baseline":"alphabetic"},"encoding":{"text":{"field":"label"}}}
]}
],
"resolve":{"scale":{"x":"independent","y":"independent"}}
}
